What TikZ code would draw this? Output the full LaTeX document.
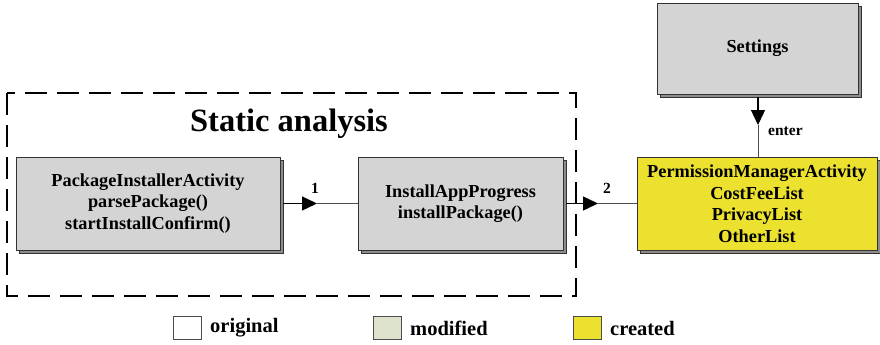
\documentclass[tikz,border=0pt]{standalone}
\usepackage{fontspec}
\setmainfont{Liberation Serif}
\usetikzlibrary{shadows,arrows.meta}
\definecolor{boxgray}{HTML}{D4D4D4}
\definecolor{boxyellow}{HTML}{EBE12E}
\definecolor{modgreen}{HTML}{DDE3CC}
\tikzset{
  cls/.style={draw=black!80, line width=0.6pt, fill=boxgray, align=center,
    font=\fontsize{18.3}{21.5}\selectfont\bfseries, inner sep=0pt,
    copy shadow={shadow xshift=3pt, shadow yshift=-3pt, fill=black!45}},
  legbox/.style={draw=black!70, line width=0.6pt, minimum width=28pt, minimum height=23pt, inner sep=0pt},
  legtext/.style={font=\fontsize{20.5}{22}\selectfont\bfseries, anchor=west, inner sep=0pt},
  headline/.style={line width=1.4pt, -{Triangle[length=15pt,width=14pt]}},
  tailline/.style={line width=0.8pt, draw=black!70},
  lbl/.style={font=\fontsize{15.5}{17}\selectfont\bfseries, inner sep=0pt}
}
\begin{document}
\begin{tikzpicture}[x=1pt,y=1pt]
\useasboundingbox (0,0) rectangle (880,-345);
% dashed frame
\draw[line width=1.6pt, dash pattern=on 22pt off 10pt] (7,-93) rectangle (576,-296);
\node[font=\fontsize{32.5}{36}\selectfont\bfseries] (title) at (289,-124) {Static analysis};
% boxes
\node[cls, minimum width=264pt, minimum height=93pt] (pia) at (148,-203.5)
  {PackageInstallerActivity\\parsePackage()\\startInstallConfirm()};
\node[cls, minimum width=205pt, minimum height=93pt] (iap) at (460.5,-203.5)
  {InstallAppProgress\\installPackage()};
\node[cls, fill=boxyellow, minimum width=240pt, minimum height=93pt] (pma) at (757,-203.5)
  {PermissionManagerActivity\\CostFeeList\\PrivacyList\\OtherList};
\node[cls, minimum width=201pt, minimum height=91pt] (set) at (757.5,-48.5) {Settings};
% connectors
\coordinate (m1) at (317,-203.5);
\coordinate (m2) at (598,-203.5);
\coordinate (m3) at (758,-125);
\draw[headline] (pia.east) ++(3,0) -- (m1);
\draw[tailline] (m1) -- (iap.west);
\draw[headline] (iap.east) ++(3,0) -- (m2);
\draw[tailline] (m2) -- (pma.west);
\draw[headline] (set.south -| m3) ++(0,-3) -- (m3);
\draw[tailline] (m3) -- (pma.north -| m3);
\node[lbl] (l1) at (315,-188) {1};
\node[lbl] (l2) at (607,-188) {2};
\node[lbl, anchor=west] (l3) at (768,-131) {enter};
% legend
\node[legbox, fill=white] (lg1) at (187,-328) {};
\node[legtext] (lt1) at (210,-328) {original};
\node[legbox, fill=modgreen] (lg2) at (387,-328) {};
\node[legtext] (lt2) at (410,-328) {modified};
\node[legbox, fill=boxyellow] (lg3) at (587,-328) {};
\node[legtext] (lt3) at (610,-328) {created};
\end{tikzpicture}
\end{document}
